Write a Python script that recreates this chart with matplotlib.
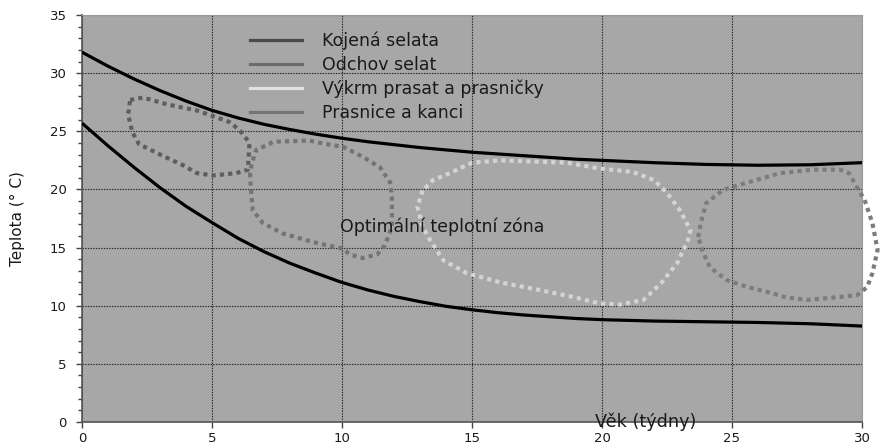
import matplotlib
matplotlib.use("Agg")
import matplotlib.pyplot as plt
from matplotlib.lines import Line2D
from matplotlib.ticker import MultipleLocator

plt.rcParams['font.family'] = ['DejaVu Sans']

# ---- data ----
weeks = [0, 1, 2, 3, 4, 5, 6, 7, 8, 9, 10, 11, 12, 13, 14, 15, 16, 17, 18, 19, 20,
         22, 24, 26, 28, 30]
upper_limit = [31.8, 30.6, 29.5, 28.5, 27.6, 26.8, 26.15, 25.6, 25.15, 24.75, 24.4,
               24.1, 23.85, 23.6, 23.4, 23.2, 23.05, 22.9, 22.75, 22.6, 22.5,
               22.3, 22.15, 22.08, 22.12, 22.3]
lower_limit = [25.7, 23.75, 21.9, 20.15, 18.55, 17.15, 15.8, 14.65, 13.65, 12.8, 12.0,
               11.35, 10.8, 10.35, 9.95, 9.65, 9.4, 9.2, 9.05, 8.9, 8.8,
               8.68, 8.62, 8.56, 8.45, 8.25]

series_names = ["Kojená selata", "Odchov selat", "Výkrm prasat a prasničky", "Prasnice a kanci"]

kojena_x = [1.85, 2.35, 3.3, 4.4, 4.92, 5.67, 6.06, 6.38, 6.44, 6.38, 5.93, 5.03,
            4.42, 3.87, 3.09, 2.19, 1.93, 1.77, 1.8, 1.85]
kojena_y = [27.7, 27.9, 27.3, 26.8, 26.4, 25.8, 25.1, 24.2, 23.9, 21.7, 21.4, 21.2,
            21.4, 22.1, 22.9, 23.9, 24.95, 26.5, 26.8, 27.7]

odchov_x = [6.46, 6.5, 6.57, 6.96, 7.73, 9.02, 10.05, 10.3, 10.8, 11.35, 11.65, 11.92,
            11.92, 11.85, 11.46, 10.8, 10.05, 9.15, 8.76, 7.35, 7.2, 6.7, 6.54, 6.46]
odchov_y = [21.4, 19.9, 18.2, 17.1, 16.2, 15.4, 14.9, 14.4, 14.1, 14.4, 15.2, 16.8,
            19.3, 20.6, 21.9, 22.8, 23.66, 24.0, 24.2, 24.1, 23.9, 23.4, 22.3, 21.4]

vykrm_x = [13.1, 12.9, 13.1, 13.4, 13.9, 14.8, 16.1, 17.6, 18.9, 19.9, 20.7, 21.6,
           22.3, 22.9, 23.3, 23.4, 23.0, 22.5, 22.0, 21.2, 19.9, 18.65, 17.35, 16.1,
           15.0, 14.15, 13.5, 13.1]
vykrm_y = [19.9, 18.5, 16.8, 15.6, 13.9, 12.8, 12.0, 11.35, 10.75, 10.2, 10.1, 10.5,
           12.0, 13.7, 15.6, 16.5, 18.2, 19.7, 20.8, 21.5, 21.8, 22.3, 22.4, 22.5,
           22.3, 21.4, 20.8, 19.9]

prasnice_x = [23.7, 23.8, 24.0, 24.65, 25.6, 26.85, 28.1, 29.15, 29.5, 29.8, 30.1,
              30.4, 30.6, 30.4, 30.2, 29.8, 28.9, 27.9, 27.1, 26.5, 25.6, 24.8, 24.15,
              23.85, 23.7]
prasnice_y = [15.9, 17.1, 18.8, 19.95, 20.6, 21.4, 21.7, 21.7, 21.4, 20.2, 19.1,
              17.1, 14.8, 12.8, 11.6, 10.9, 10.7, 10.5, 10.7, 11.1, 11.6, 12.2, 13.3,
              14.8, 15.9]

x_ticks = [0, 5, 10, 15, 20, 25, 30]
y_ticks = [0, 5, 10, 15, 20, 25, 30, 35]

# ---- styles ----
legend_colors = ["#4a4a4a", "#6c6c6c", "#e2e2e2", "#747474"]
loop_colors = ["#5e5e5e", "#747474", "#d4d4d4", "#7c7c7c"]

fig = plt.figure(figsize=(8.81, 4.45), dpi=100)
ax = fig.add_axes([82/881, 1 - 422/445, 780/881, 407/445])
ax.set_facecolor("#a7a7a7")

ax.plot(weeks, upper_limit, color="black", lw=2.3, solid_capstyle="butt",
        solid_joinstyle="round", zorder=4)
ax.plot(weeks, lower_limit, color="black", lw=2.3, solid_capstyle="butt",
        solid_joinstyle="round", zorder=4)

loops = [(kojena_x, kojena_y), (odchov_x, odchov_y), (vykrm_x, vykrm_y), (prasnice_x, prasnice_y)]
for (lx, ly), c in zip(loops, loop_colors):
    ax.plot(lx, ly, color=c, lw=3.0, linestyle=(0, (1, 1)), zorder=3, clip_on=False)

ax.set_xlim(0, 30)
ax.set_ylim(0, 35)
ax.set_xticks(x_ticks)
ax.set_yticks(y_ticks)
ax.yaxis.set_minor_locator(MultipleLocator(1))
ax.grid(True, which="major", color="#222222", lw=0.8, linestyle=(0, (1.2, 1.2)))
ax.set_axisbelow(True)

ax.tick_params(axis="both", which="major", length=4, width=1, color="#444444",
               labelsize=9.5, labelcolor="#1a1a1a")
ax.tick_params(axis="y", which="major", pad=7)
ax.tick_params(axis="x", which="major", pad=3)
ax.tick_params(axis="y", which="minor", length=3, width=1, color="#444444")

for s in ["left", "bottom"]:
    ax.spines[s].set_color("#555555")
    ax.spines[s].set_linewidth(1.2)
for s in ["top", "right"]:
    ax.spines[s].set_color("#9a9a9a")
    ax.spines[s].set_linewidth(0.8)

ax.set_ylabel("Teplota (° C)", fontsize=11, color="#1a1a1a", labelpad=18)
ax.text(19.73, -0.43, "Věk (týdny)", fontsize=12.7, color="#1a1a1a",
        ha="left", va="baseline", clip_on=False, zorder=6)
ax.text(9.92, 16.34, "Optimální teplotní zóna", fontsize=12.5, color="#1a1a1a",
        ha="left", va="baseline", zorder=6)

handles = [Line2D([], [], color=c, lw=2.3) for c in legend_colors]
leg = fig.legend(handles, series_names, loc="upper left",
                 bbox_to_anchor=(250/881, 1 - 32/445), bbox_transform=fig.transFigure,
                 frameon=False, fontsize=12.5, handlelength=3.0, handletextpad=1.15,
                 labelspacing=0.33, borderpad=0, borderaxespad=0)
for t in leg.get_texts():
    t.set_color("#1a1a1a")

fig.savefig("out.png", dpi=100, facecolor="white")
